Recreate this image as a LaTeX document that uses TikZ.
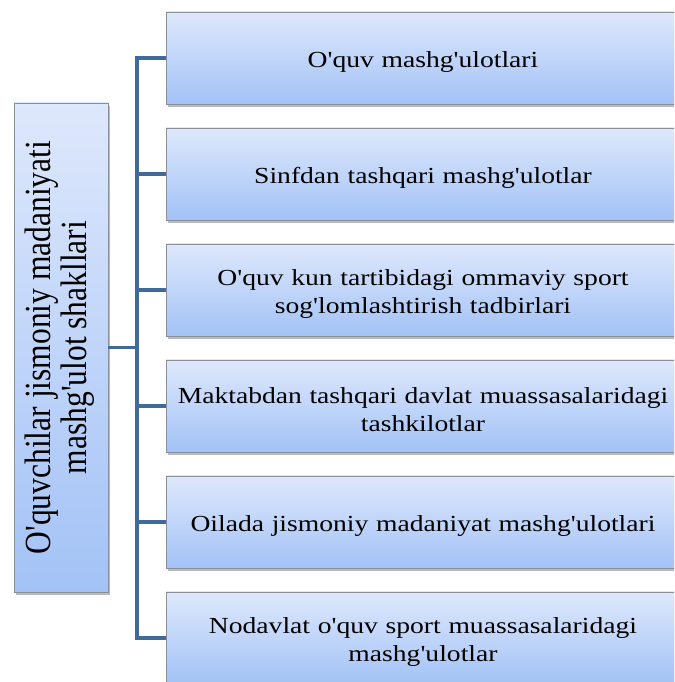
\documentclass[tikz,border=0pt]{standalone}
\usepackage{fontspec}
\setmainfont{Liberation Serif}[Ligatures=TeXOff]
\newfontfamily\widefont{Liberation Serif}[Ligatures=TeXOff, FakeStretch=1.2]
\usetikzlibrary{shadows}
\definecolor{boxtop}{HTML}{DEE8FC}
\definecolor{boxbot}{HTML}{A3C2F6}
\definecolor{boxline}{HTML}{8A8F99}
\definecolor{connblue}{HTML}{3F6A99}
\tikzset{
  box/.style={draw=boxline, line width=0.8pt, top color=boxtop, bottom color=boxbot,
    drop shadow={shadow xshift=2pt, shadow yshift=-3pt, opacity=0.45, fill=black!60},
    inner sep=0pt},
  item/.style={box, minimum width=514pt, minimum height=92pt},
  itemtext/.style={align=center, text width=506pt, inner sep=0pt,
    font=\widefont\fontsize{23}{28}\selectfont},
  conn/.style={draw=connblue, line width=3.8pt, line join=miter},
}
\newcommand\branch[3]{%
  \node[item] (#1) at (423,#2) {};
  \node[itemtext] (#1text) at ([yshift=-4pt]#1.center) {#3};}
\begin{document}
\begin{tikzpicture}[x=1pt,y=1pt]
  \useasboundingbox (0,0) rectangle (674,682);
  \clip (0,0) rectangle (674,682);

  % root box with rotated caption
  \node[box, minimum width=94pt, minimum height=489pt] (root) at (61,334.5) {};
  \node[rotate=90, inner sep=0pt] (rootlabel) at (root)
    {\scalebox{1}[1.17]{\fontsize{31.5}{31}\selectfont
      \begin{tabular}{@{}c@{}}O'quvchilar jismoniy madaniyati\\mashg'ulot shakllari\end{tabular}}};

  % branch boxes
  \branch{b1}{624}{O'quv mashg'ulotlari}
  \branch{b2}{508}{Sinfdan tashqari mashg'ulotlar}
  \branch{b3}{392}{O'quv kun tartibidagi ommaviy sport\\sog'lomlashtirish tadbirlari}
  \branch{b4}{276}{Maktabdan tashqari davlat muassasalaridagi\\tashkilotlar}
  \branch{b5}{160}{Oilada jismoniy madaniyat mashg'ulotlari}
  \branch{b6}{44}{Nodavlat o'quv sport muassasalaridagi\\mashg'ulotlar}

  % connectors
  \coordinate (trunk) at (137,0);
  \draw[conn] (b1.west) -- (b1.west -| trunk) -- (b6.west -| trunk) -- (b6.west);
  \foreach \b in {b2,b3,b4,b5} \draw[conn] (\b.west) -- (\b.west -| trunk);
  \draw[conn] (root.east) -- (root.east -| trunk);
\end{tikzpicture}
\end{document}
